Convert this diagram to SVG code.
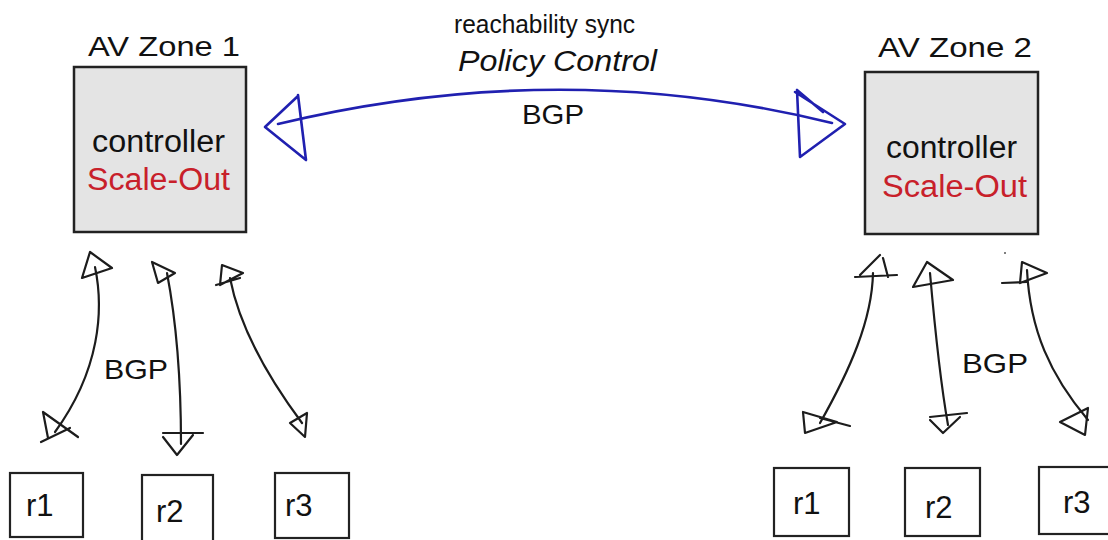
<svg xmlns="http://www.w3.org/2000/svg" width="1108" height="540" viewBox="0 0 1108 540">
  <style>
    text { font-family: "Liberation Sans", Arial, sans-serif; fill: #111; }
    .title { font-size: 28px; }
    .ctl { font-size: 31px; }
    .scale { font-size: 31px; fill: #c8202a; }
    .lbl { font-size: 28px; }
    .sync { font-size: 25px; }
    .policy { font-size: 29px; font-style: italic; }
    .rt { font-size: 31px; }
    .zone { fill: #e4e4e4; stroke: #222; stroke-width: 2.5; }
    .rbox { fill: #fff; stroke: #222; stroke-width: 2.2; }
    .ink { fill: none; stroke: #1c1c1c; stroke-width: 2.2; stroke-linecap: round; stroke-linejoin: round; }
    .blue { fill: none; stroke: #2020b0; stroke-width: 2.6; stroke-linecap: round; stroke-linejoin: round; }
  </style>

  <!-- header labels for the zone-to-zone link -->
  <g id="sync-label">
    <text class="sync" x="454" y="33" textLength="181" lengthAdjust="spacingAndGlyphs">reachability sync</text>
    <text class="policy" x="458" y="71" textLength="199" lengthAdjust="spacingAndGlyphs">Policy Control</text>
    <text class="lbl" x="522" y="124" textLength="62" lengthAdjust="spacingAndGlyphs">BGP</text>
  </g>

  <!-- zone 1 controller -->
  <g id="zone1">
    <text class="title" x="88" y="56" textLength="152" lengthAdjust="spacingAndGlyphs">AV Zone 1</text>
    <rect class="zone" x="74" y="67" width="172" height="165"/>
    <text class="ctl" x="92" y="152" textLength="133" lengthAdjust="spacingAndGlyphs">controller</text>
    <text class="scale" x="87" y="190" textLength="143" lengthAdjust="spacingAndGlyphs">Scale-Out</text>
  </g>

  <!-- zone 2 controller -->
  <g id="zone2">
    <text class="title" x="878" y="57" textLength="154" lengthAdjust="spacingAndGlyphs">AV Zone 2</text>
    <rect class="zone" x="865" y="72" width="173" height="162"/>
    <text class="ctl" x="886" y="158" textLength="131" lengthAdjust="spacingAndGlyphs">controller</text>
    <text class="scale" x="882" y="197" textLength="145" lengthAdjust="spacingAndGlyphs">Scale-Out</text>
  </g>

  <!-- zone 1 routers -->
  <g id="z1-r1">
    <rect class="rbox" x="10" y="473" width="73" height="64"/>
    <text class="rt" x="26" y="516">r1</text>
  </g>
  <g id="z1-r2">
    <rect class="rbox" x="142" y="475" width="71" height="68"/>
    <text class="rt" x="156" y="522">r2</text>
  </g>
  <g id="z1-r3">
    <rect class="rbox" x="275" y="473" width="74" height="65"/>
    <text class="rt" x="285" y="516">r3</text>
  </g>

  <!-- zone 2 routers -->
  <g id="z2-r1">
    <rect class="rbox" x="774" y="468" width="75" height="68"/>
    <text class="rt" x="793" y="514">r1</text>
  </g>
  <g id="z2-r2">
    <rect class="rbox" x="905" y="468" width="75" height="68"/>
    <text class="rt" x="925" y="518">r2</text>
  </g>
  <g id="z2-r3">
    <rect class="rbox" x="1039" y="467" width="75" height="67"/>
    <text class="rt" x="1063" y="513">r3</text>
  </g>

  <!-- BGP session labels -->
  <g id="bgp-labels">
    <text class="lbl" x="104" y="379" textLength="64" lengthAdjust="spacingAndGlyphs">BGP</text>
    <text class="lbl" x="962" y="373" textLength="66" lengthAdjust="spacingAndGlyphs">BGP</text>
  </g>

  <!-- hand-drawn connectors -->
  <g id="connectors">
    <!-- zone 1 <-> zone 2 -->
    <path class="blue" d="M278,124 Q560,56 832,123"/>
    <path class="blue" d="M298,96 L265,127 L306,160 M298,95 L306,160"/>
    <path class="blue" d="M797,90 L800,157 L845,124 L795,92 M797,90 L823,112"/>

    <!-- zone 1, r1 -->
    <path class="ink" d="M95,267 C104,310 100,370 55,432"/>
    <path class="ink" d="M90,252 L82,278 L112,268 Z"/>
    <path class="ink" d="M43,412 L78,437 M41,442 L70,428 M43,412 L48,438"/>
    <!-- zone 1, r2 -->
    <path class="ink" d="M167,273 C176,320 181,380 181,444"/>
    <path class="ink" d="M152,262 L158,283 L175,273 Z"/>
    <path class="ink" d="M163,433 L203,433 M163,437 L177,455 L193,435"/>
    <!-- zone 1, r3 -->
    <path class="ink" d="M230,278 C240,330 270,380 302,423"/>
    <path class="ink" d="M222,265 L243,273 L220,285 Z M216,285 L240,278"/>
    <path class="ink" d="M290,423 L307,413 L305,437 Z"/>

    <!-- zone 2, r1 -->
    <path class="ink" d="M873,273 C872,320 850,370 820,423"/>
    <path class="ink" d="M880,255 L860,275 M855,277 L897,275 M883,258 L888,277"/>
    <path class="ink" d="M803,412 L805,433 L837,422 L803,412 M820,418 L850,426"/>
    <!-- zone 2, r2 -->
    <path class="ink" d="M930,273 C935,330 940,380 948,425"/>
    <path class="ink" d="M913,287 L927,262 L953,280 Z"/>
    <path class="ink" d="M930,417 L967,413 M930,420 L943,433 L960,417"/>
    <!-- zone 2, r3 -->
    <path class="ink" d="M1027,270 C1030,330 1050,375 1088,420"/>
    <path class="ink" d="M1022,262 L1047,273 L1020,283 Z M1002,283 L1027,282"/>
    <path class="ink" d="M1060,422 L1088,408 L1085,435 Z"/>
    <circle cx="1005" cy="253" r="1" fill="#555"/>
  </g>
</svg>
